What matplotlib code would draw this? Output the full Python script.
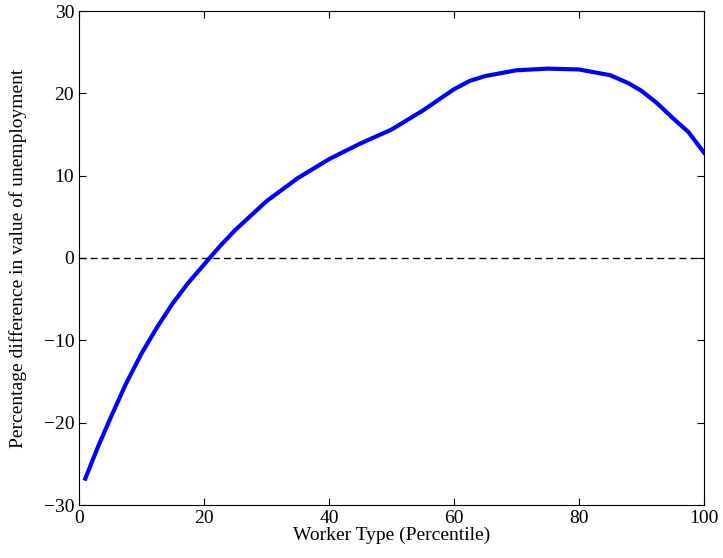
import matplotlib
matplotlib.use("Agg")
import matplotlib.pyplot as plt

percentile = [1, 3, 5, 7.5, 10, 12.5, 15, 17.5, 20, 22.5, 25, 30, 35, 40, 45, 50, 55, 60, 62.5, 65, 70, 75, 80, 85, 88, 90, 92.5, 95, 97.5, 100]
diff = [-26.8, -23.0, -19.5, -15.3, -11.6, -8.4, -5.5, -3.0, -0.8, 1.4, 3.4, 6.9, 9.7, 12.0, 13.9, 15.6, 17.9, 20.5, 21.5, 22.1, 22.8, 23.0, 22.9, 22.2, 21.2, 20.3, 18.8, 17.0, 15.3, 12.8]

plt.rcParams['font.family'] = ['Liberation Serif', 'DejaVu Serif']
fig = plt.figure(figsize=(7.23, 5.58), dpi=100)
ax = fig.add_axes([79/723, 1-505/558, 625/723, 494/558])
ax.plot(percentile, diff, color='#0000ff', lw=3)
ax.axhline(0, color='black', ls='--', lw=1, dashes=(5, 3))
ax.set_xlim(0, 100)
ax.set_ylim(-30, 30)
ax.set_xticks([0, 20, 40, 60, 80, 100])
ax.set_yticks([-30, -20, -10, 0, 10, 20, 30])
ax.set_yticklabels(['\u221230', '\u221220', '\u221210', '0', '10', '20', '30'])
ax.tick_params(direction='in', top=True, right=True, labelsize=14, length=5)
ax.set_xlabel('Worker Type (Percentile)', fontsize=14, labelpad=0)
ax.set_ylabel('Percentage difference in value of unemployment', fontsize=14, labelpad=12)
fig.savefig('out.png', dpi=100)
